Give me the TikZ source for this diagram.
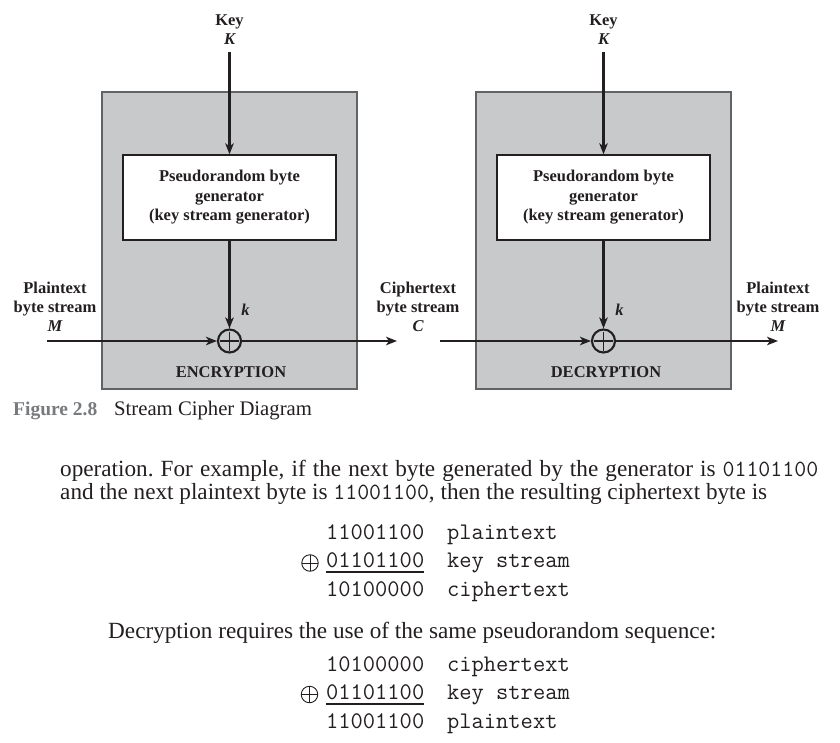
\documentclass[tikz,border=0pt]{standalone}
\usepackage{fontspec}
\setmainfont{Liberation Serif}
\usetikzlibrary{arrows.meta}
\definecolor{boxgray}{RGB}{200,201,203}
\definecolor{boxline}{RGB}{98,99,101}
\definecolor{ink}{RGB}{35,31,32}
\definecolor{figgray}{RGB}{120,123,126}
\frenchspacing
\begin{document}
\begin{tikzpicture}[x=1pt,y=-1pt,
  lbl/.style={inner sep=0pt, anchor=base, text=ink, font=\fontsize{16.5}{19}\selectfont\bfseries},
  ilbl/.style={lbl, font=\fontsize{16.5}{19}\selectfont\bfseries\itshape},
  outerbox/.style={draw=boxline, fill=boxgray, line width=1.9pt, minimum width=255pt, minimum height=297pt, inner sep=0pt},
  genbox/.style={draw=ink, fill=white, line width=1.4pt, minimum width=213pt, minimum height=85pt, inner sep=0pt, align=center, text=ink, font=\fontsize{16.5}{19.5}\selectfont\bfseries},
  xorbig/.style={circle, draw=ink, line width=2.1pt, minimum size=23pt, inner sep=0pt,
     path picture={\draw[ink, line width=1.9pt] ([yshift=-2pt]path picture bounding box.north) -- ([yshift=2pt]path picture bounding box.south)
                    ([xshift=2pt]path picture bounding box.west) -- ([xshift=-2pt]path picture bounding box.east);}},
  xorsmall/.style={circle, draw=ink, line width=0.9pt, minimum size=16.5pt, inner sep=0pt,
     path picture={\draw[ink, line width=0.9pt] (path picture bounding box.north) -- (path picture bounding box.south)
                    (path picture bounding box.west) -- (path picture bounding box.east);}},
  flow/.style={draw=ink, line width=2.1pt, -{Stealth[length=11pt, width=8.5pt, inset=3pt]}},
  body/.style={inner sep=0pt, anchor=base west, text=ink, font=\fontsize{23.2}{25}\selectfont},
  bitsn/.style={inner sep=0pt, anchor=base west, text=ink, font=\fontsize{23.8}{25}\selectfont\ttfamily},
  capn/.style={inner sep=0pt, anchor=base west, font=\fontsize{20.7}{22}\selectfont}
]
\path[use as bounding box] (0,0) rectangle (840,743);

% ---------- encryption ----------
\node[outerbox] (encbox) at (229.5,240.5) {};
\node[genbox] (encgen) at (229.5,197.5) {Pseudorandom byte\\generator\\(key stream generator)};
\node[xorbig] (xorE) at (229.5,341) {};
\node[lbl] (keyE) at (229.5,26) {Key};
\node[ilbl] (KE) at (229.5,45) {K};
\coordinate (keyEstart) at (229.5,52);
\draw[flow] (keyEstart) -- (encgen.north);
\draw[flow] (encgen.south) -- (xorE.north);
\node[ilbl] (kE) at (245.5,315) {k};
\node[lbl] (encname) at (231,377) {ENCRYPTION};
\node[lbl] (ptE1) at (55,293) {Plaintext};
\node[lbl] (ptE2) at (55,312) {byte stream};
\node[ilbl] (ptE3) at (55,331) {M};
\coordinate (inE) at (47,341);
\coordinate (outE) at (397,341);
\draw[flow] (inE) -- (xorE.west);
\draw[flow] (xorE.east) -- (outE);

% ---------- ciphertext label ----------
\node[lbl] (ct1) at (418,293) {Ciphertext};
\node[lbl] (ct2) at (418,312) {byte stream};
\node[ilbl] (ct3) at (418,331) {C};

% ---------- decryption ----------
\node[outerbox] (decbox) at (603.5,240.5) {};
\node[genbox] (decgen) at (603.5,197.5) {Pseudorandom byte\\generator\\(key stream generator)};
\node[xorbig] (xorD) at (603.5,341) {};
\node[lbl] (keyD) at (603.5,26) {Key};
\node[ilbl] (KD) at (603.5,45) {K};
\coordinate (keyDstart) at (603.5,52);
\draw[flow] (keyDstart) -- (decgen.north);
\draw[flow] (decgen.south) -- (xorD.north);
\node[ilbl] (kD) at (619.5,315) {k};
\node[lbl] (decname) at (606,377) {DECRYPTION};
\node[lbl] (ptD1) at (778,293) {Plaintext};
\node[lbl] (ptD2) at (778,312) {byte stream};
\node[ilbl] (ptD3) at (778,331) {M};
\coordinate (inD) at (440,341);
\coordinate (outD) at (778,341);
\draw[flow] (inD) -- (xorD.west);
\draw[flow] (xorD.east) -- (outD);

% ---------- caption ----------
\node[capn, text=figgray, font=\fontsize{19.5}{22}\selectfont\bfseries] (figno) at (13,415.5) {Figure 2.8};
\node[capn, text=ink] (figtitle) at (114,415.5) {Stream Cipher Diagram};

% ---------- body text ----------
\node[body] (line1) at (60,476) {\hbox to 758pt{operation. For example, if the next byte generated by the generator is \texttt{01101100}}};
\node[body] (line2) at (60,499.5) {and the next plaintext byte is \texttt{11001100}, then the resulting ciphertext byte is};

\node[bitsn] (a1) at (326,539.5) {11001100};
\node[bitsn] (b1) at (447,539.5) {plaintext};
\node[bitsn] (a2) at (326,567.5) {01101100};
\node[bitsn] (b2) at (447,567.5) {key stream};
\node[bitsn] (a3) at (326,596) {10100000};
\node[bitsn] (b3) at (447,596) {ciphertext};
\node[xorsmall] (op1) at (310,563) {};
\draw[ink, line width=1.1pt] ([yshift=-4.5pt]a2.base west) -- ([yshift=-4.5pt]a2.base east);

\node[body] (line3) at (108,638) {Decryption requires the use of the same pseudorandom sequence:};

\node[bitsn] (c1) at (326,671.5) {10100000};
\node[bitsn] (d1) at (447,671.5) {ciphertext};
\node[bitsn] (c2) at (326,699.5) {01101100};
\node[bitsn] (d2) at (447,699.5) {key stream};
\node[bitsn] (c3) at (326,728) {11001100};
\node[bitsn] (d3) at (447,728) {plaintext};
\node[xorsmall] (op2) at (309.5,694.5) {};
\draw[ink, line width=1.1pt] ([yshift=-4.5pt]c2.base west) -- ([yshift=-4.5pt]c2.base east);
\end{tikzpicture}
\end{document}
